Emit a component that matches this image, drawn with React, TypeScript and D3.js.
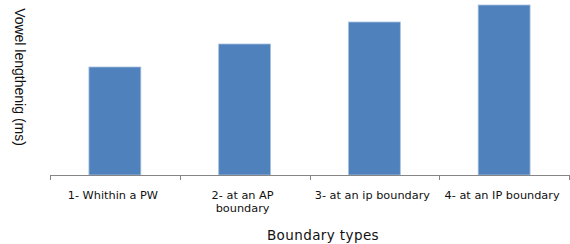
import React, { useEffect, useRef } from 'react';
import * as d3 from 'd3';

// boundary categories, label lines for wrapping
const categories = ['c1', 'c2', 'c3', 'c4'];
const categoryLabels = [
  ['1- Whithin a PW'],
  ['2- at an AP', 'boundary'],
  ['3- at an ip boundary'],
  ['4- at an IP boundary'],
];
// vowel lengthening (ms)
const values = [108, 131, 153, 170];

function BarChart() {
  const svgRef = useRef() as React.RefObject<SVGSVGElement>;

  useEffect(() => {
    const width = 570;
    const height = 244;
    const margin = { top: 0, right: 1, bottom: 69, left: 50 };

    const svg = d3.select(svgRef.current)
      .attr('width', width)
      .attr('height', height);
    svg.selectAll('*').remove();

    const xScale = d3.scaleBand()
      .domain(categories)
      .range([margin.left, width - margin.right])
      .paddingInner(0.6)
      .paddingOuter(0.3);

    const yScale = d3.scaleLinear()
      .domain([0, 175])
      .range([height - margin.bottom, margin.top]);

    const base = yScale(0);
    const step = xScale.step();

    // bars
    svg.selectAll('.bar')
      .data(values)
      .join('rect')
      .attr('class', 'bar')
      .attr('x', (d, i) => xScale(categories[i])!)
      .attr('y', d => yScale(d))
      .attr('width', xScale.bandwidth())
      .attr('height', d => base - yScale(d))
      .attr('fill', '#4f81bd')
      .attr('stroke', '#a9c1df')
      .attr('stroke-width', 0.8);

    // x axis line + tick marks at category boundaries
    const g = svg.append('g').attr('class', 'xAxis');
    g.append('line')
      .attr('x1', margin.left)
      .attr('x2', width - margin.right)
      .attr('y1', base + 0.5)
      .attr('y2', base + 0.5)
      .attr('stroke', '#868686');
    const bounds = d3.range(categories.length + 1).map(i => margin.left + i * step);
    g.selectAll('.tick')
      .data(bounds)
      .join('line')
      .attr('class', 'tick')
      .attr('x1', d => Math.round(d) + 0.5)
      .attr('x2', d => Math.round(d) + 0.5)
      .attr('y1', base)
      .attr('y2', base + 5)
      .attr('stroke', '#868686');

    // category labels
    g.selectAll('.lab')
      .data(categoryLabels)
      .join('text')
      .attr('class', 'lab')
      .attr('text-anchor', 'middle')
      .attr('font-family', 'DejaVu Sans, sans-serif')
      .attr('font-size', 11.3)
      .attr('fill', '#111')
      .each(function (lines, i) {
        const cx = xScale(categories[i])! + xScale.bandwidth() / 2 - 2;
        d3.select(this).selectAll('tspan')
          .data(lines)
          .join('tspan')
          .attr('x', cx)
          .attr('y', (l, j) => base + 24 + j * 13)
          .text(l => l);
      });

    // axis titles
    svg.append('text')
      .attr('x', 323)
      .attr('y', 240)
      .attr('text-anchor', 'middle')
      .attr('font-family', 'DejaVu Sans, sans-serif')
      .attr('font-size', 13.5)
      .attr('letter-spacing', 0.4)
      .attr('fill', '#111')
      .text('Boundary types');

    svg.append('text')
      .attr('transform', 'translate(15, 77) rotate(90)')
      .attr('text-anchor', 'middle')
      .attr('font-family', 'Liberation Sans Narrow, Arial Narrow, sans-serif')
      .attr('font-size', 14)
      .attr('fill', '#111')
      .text('Vowel lengthenig (ms)');
  }, []);

  return (
    <svg ref={svgRef} style={{ position: 'absolute', left: 0, top: 0 }}></svg>
  );
}

export default function App() {
  return <BarChart />;
}
